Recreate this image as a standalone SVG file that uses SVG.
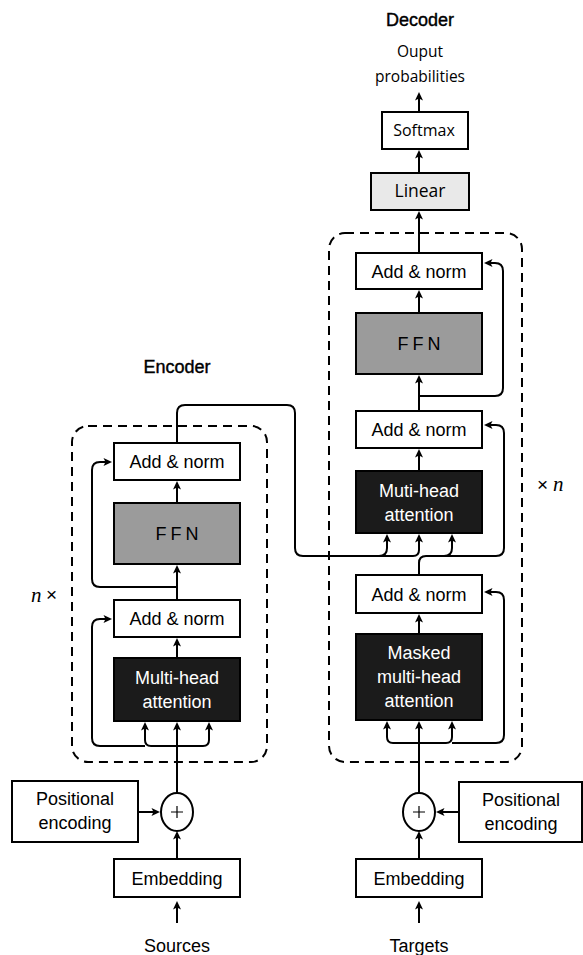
<svg xmlns="http://www.w3.org/2000/svg" width="583" height="955" viewBox="0 0 583 955">
<style>
.box{fill:#fff;stroke:#000;stroke-width:2}
.dark{fill:#1b1b1b;stroke:#000;stroke-width:2}
.ffn{fill:#9b9b9b;stroke:#000;stroke-width:2}
.lin{fill:#e9e9e9;stroke:#000;stroke-width:2}
.dash{fill:none;stroke:#000;stroke-width:2;stroke-dasharray:9 6}
.t{font-family:"Liberation Sans",Arial,sans-serif;font-size:18px;fill:#000;text-anchor:middle}
.w{fill:#fff}
.o{font-family:"Open Sans","DejaVu Sans",sans-serif;fill:#000;text-anchor:middle}
.c{fill:none;stroke:#000;stroke-width:2}
.a{fill:none;stroke:#000;stroke-width:2;marker-end:url(#ah)}
</style>
<defs>
<marker id="ah" markerUnits="userSpaceOnUse" markerWidth="10" markerHeight="10" viewBox="0 0 10 10" refX="6" refY="5" orient="auto">
<path d="M0.5,1 L9,5 L0.5,9 L2.5,5 z" fill="#000"/>
</marker>
</defs>

<!-- titles -->
<text class="t" x="420" y="26" style="stroke:#000;stroke-width:0.4">Decoder</text>
<text class="t" x="177" y="373" style="stroke:#000;stroke-width:0.4">Encoder</text>
<text class="o" x="420" y="57" font-size="15.5">Ouput</text>
<text class="o" x="420" y="82" font-size="15.5">probabilities</text>

<!-- repetition labels -->
<text x="31" y="602" font-family="Liberation Serif,serif" font-style="italic" font-size="21">n</text>
<text x="46" y="601" font-family="Liberation Sans,sans-serif" font-size="19">×</text>
<text x="537" y="491" font-family="Liberation Sans,sans-serif" font-size="19">×</text>
<text x="553" y="491" font-family="Liberation Serif,serif" font-style="italic" font-size="21">n</text>

<!-- dashed containers -->
<rect class="dash" x="72" y="426" width="195" height="336" rx="16"/>
<rect class="dash" x="329" y="233" width="193" height="529" rx="16"/>

<!-- connectors -->
<g id="connectors">
<path class="a" d="M419,112 L419,95"/>
<path class="a" d="M419,173 L419,153"/>
<path class="a" d="M419,253 L419,214"/>
<path class="a" d="M419,313 L419,293"/>
<path class="a" d="M419,411 L419,378"/>
<path class="a" d="M419,396 L495,396 Q503,396 503,388 L503,271 Q503,263 495,263 L487,263"/>
<path class="a" d="M419,471 L419,452"/>
<path class="a" d="M177,443 L177,413 Q177,405 185,405 L287,405 Q295,405 295,413 L295,548 Q295,556 303,556 L413,556 Q419,556 419,550 L419,537"/>
<path class="a" d="M379,556 Q387,556 387,548 L387,537"/>
<path class="c" d="M419,575 L419,563 Q419,556 426,556 L496,556"/>
<path class="a" d="M444,556 Q452,556 452,548 L452,537"/>
<path class="a" d="M496,556 Q504,556 504,548 L504,433 Q504,425 496,425 L487,425"/>
<path class="a" d="M419,634 L419,617"/>
<path class="a" d="M419,793 L419,724"/>
<path class="a" d="M419,743 L393,743 Q387,743 387,737 L387,724"/>
<path class="a" d="M419,743 L446,743 Q452,743 452,737 L452,724"/>
<path class="a" d="M452,743 L496,743 Q504,743 504,735 L504,600 Q504,592 496,592 L487,592"/>
<path class="a" d="M419,859 L419,834"/>
<path class="a" d="M419,923 L419,904"/>
<path class="a" d="M459,812 L439,812"/>
<path class="a" d="M177,503 L177,484"/>
<path class="a" d="M177,600 L177,568"/>
<path class="a" d="M177,587 L100,587 Q92,587 92,579 L92,470 Q92,462 100,462 L109,462"/>
<path class="a" d="M177,658 L177,641"/>
<path class="a" d="M177,793 L177,725"/>
<path class="a" d="M177,746 L151,746 Q145,746 145,740 L145,725"/>
<path class="a" d="M177,746 L203,746 Q209,746 209,740 L209,725"/>
<path class="a" d="M145,746 L100,746 Q92,746 92,738 L92,627 Q92,619 100,619 L109,619"/>
<path class="a" d="M177,859 L177,834"/>
<path class="a" d="M177,923 L177,904"/>
<path class="a" d="M138,812 L157,812"/>
</g>

<!-- decoder nodes -->
<g id="softmax">
<rect class="box" x="382" y="112" width="86" height="37"/>
<text class="o" x="424" y="136" font-size="16">Softmax</text>
</g>
<g id="linear">
<rect class="lin" x="371" y="173" width="98" height="37"/>
<text class="o" x="420" y="197" font-size="17.5">Linear</text>
</g>
<g id="dec-addnorm3">
<rect class="box" x="356" y="253" width="126" height="36"/>
<text class="t" x="419" y="278">Add &amp; norm</text>
</g>
<g id="dec-ffn">
<rect class="ffn" x="356" y="313" width="126" height="61"/>
<text class="t" x="421" y="350" font-size="17" letter-spacing="4">FFN</text>
</g>
<g id="dec-addnorm2">
<rect class="box" x="356" y="411" width="126" height="37"/>
<text class="t" x="419" y="436">Add &amp; norm</text>
</g>
<g id="dec-mha">
<rect class="dark" x="356" y="471" width="126" height="62"/>
<text class="t w" x="419" y="497">Muti-head</text>
<text class="t w" x="419" y="521">attention</text>
</g>
<g id="dec-addnorm1">
<rect class="box" x="356" y="575" width="126" height="38"/>
<text class="t" x="419" y="601">Add &amp; norm</text>
</g>
<g id="dec-masked">
<rect class="dark" x="356" y="634" width="126" height="86"/>
<text class="t w" x="419" y="659">Masked</text>
<text class="t w" x="419" y="683">multi-head</text>
<text class="t w" x="419" y="707">attention</text>
</g>
<g id="dec-plus">
<ellipse cx="419" cy="812" rx="16" ry="19" fill="#fff" stroke="#000" stroke-width="2"/>
<path d="M413,812 H425 M419,806 V818" stroke="#000" stroke-width="1.2"/>
</g>
<g id="dec-posenc">
<rect class="box" x="459" y="782" width="123" height="60"/>
<text class="t" x="521" y="806">Positional</text>
<text class="t" x="521" y="830">encoding</text>
</g>
<g id="dec-embedding">
<rect class="box" x="356" y="859" width="126" height="38"/>
<text class="t" x="419" y="885">Embedding</text>
</g>
<text class="t" x="419" y="952">Targets</text>

<!-- encoder nodes -->
<g id="enc-addnorm2">
<rect class="box" x="114" y="443" width="126" height="37"/>
<text class="t" x="177" y="468">Add &amp; norm</text>
</g>
<g id="enc-ffn">
<rect class="ffn" x="114" y="503" width="126" height="61"/>
<text class="t" x="179" y="540" font-size="17" letter-spacing="4">FFN</text>
</g>
<g id="enc-addnorm1">
<rect class="box" x="114" y="600" width="126" height="37"/>
<text class="t" x="177" y="625">Add &amp; norm</text>
</g>
<g id="enc-mha">
<rect class="dark" x="114" y="658" width="126" height="63"/>
<text class="t w" x="177" y="684">Multi-head</text>
<text class="t w" x="177" y="708">attention</text>
</g>
<g id="enc-plus">
<ellipse cx="177" cy="812" rx="16" ry="19" fill="#fff" stroke="#000" stroke-width="2"/>
<path d="M171,812 H183 M177,806 V818" stroke="#000" stroke-width="1.2"/>
</g>
<g id="enc-posenc">
<rect class="box" x="12" y="781" width="126" height="61"/>
<text class="t" x="75" y="805">Positional</text>
<text class="t" x="75" y="829">encoding</text>
</g>
<g id="enc-embedding">
<rect class="box" x="114" y="859" width="126" height="38"/>
<text class="t" x="177" y="885">Embedding</text>
</g>
<text class="t" x="177" y="952">Sources</text>
</svg>
